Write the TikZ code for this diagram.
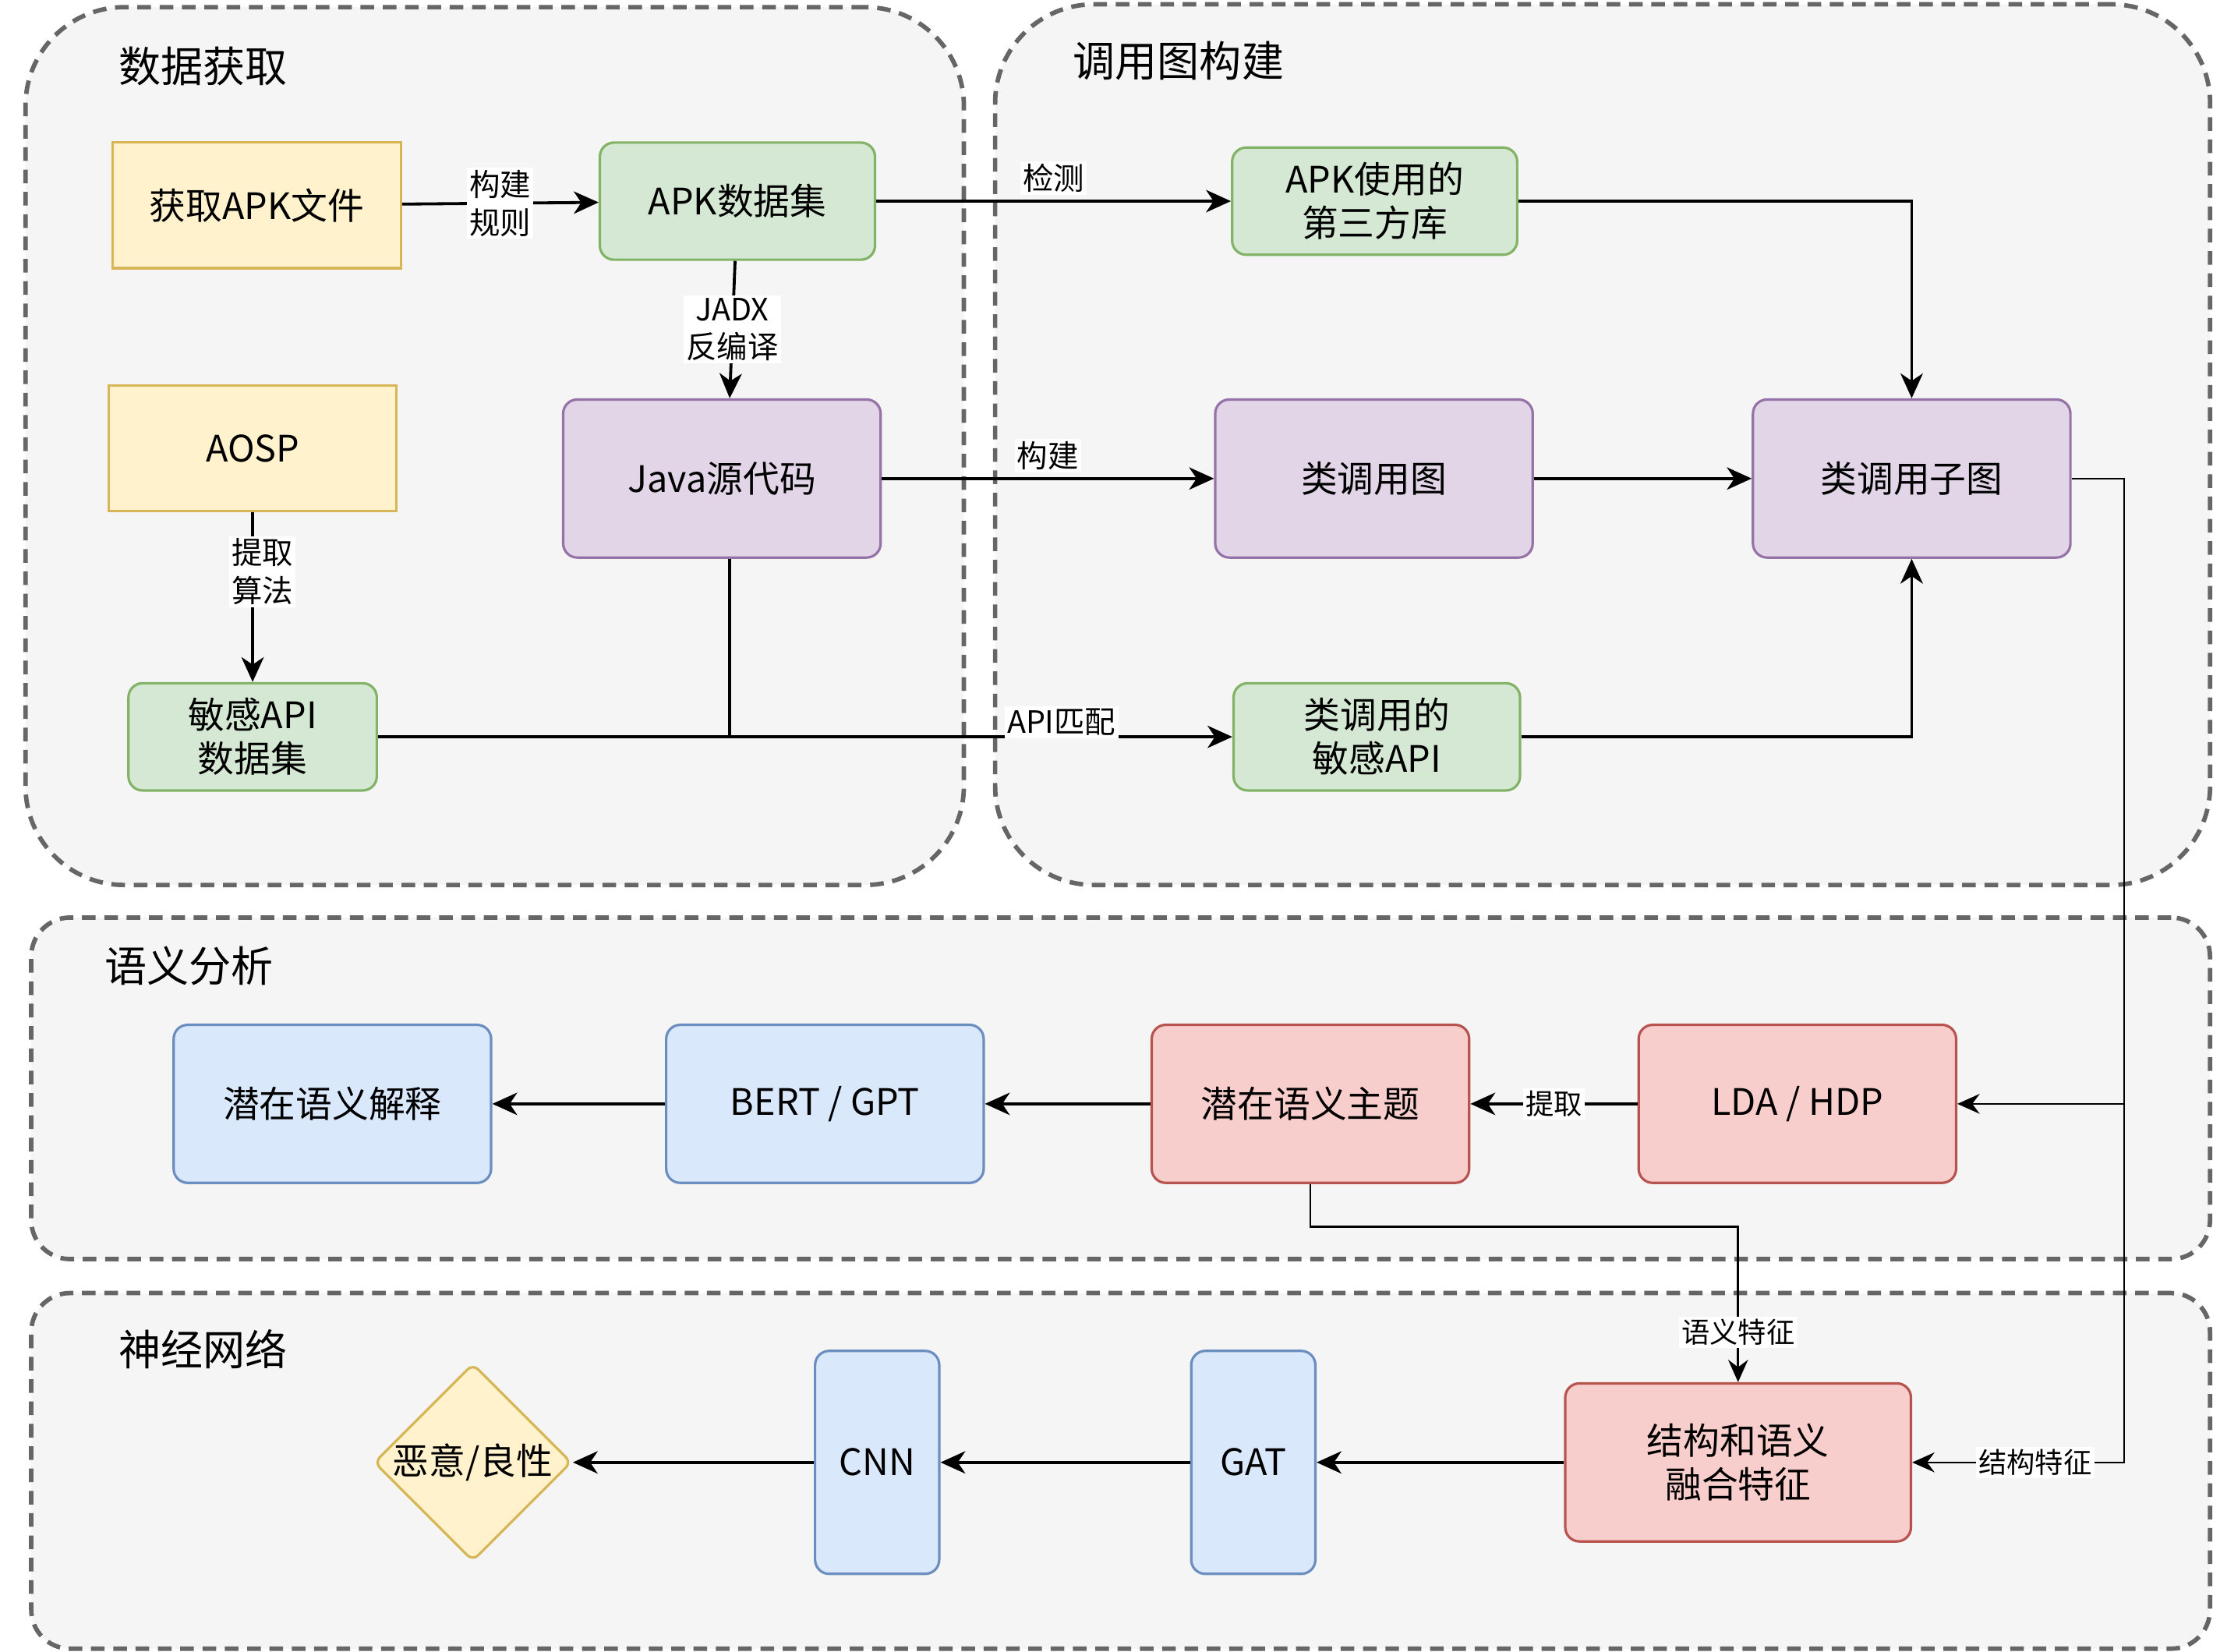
\documentclass[tikz,border=0pt]{standalone}
\RequirePackage{fontspec}
\RequirePackage{tikz}
\usetikzlibrary{arrows.meta,shapes.geometric}
\setmainfont{Noto Sans CJK SC}
\definecolor{grpfill}{HTML}{F5F5F5}
\definecolor{grpdraw}{HTML}{666666}
\definecolor{yfill}{HTML}{FFF2CC}
\definecolor{ydraw}{HTML}{D6B656}
\definecolor{gfill}{HTML}{D5E8D4}
\definecolor{gdraw}{HTML}{82B366}
\definecolor{pfill}{HTML}{E1D5E7}
\definecolor{pdraw}{HTML}{9673A6}
\definecolor{bfill}{HTML}{DAE8FC}
\definecolor{bdraw}{HTML}{6C8EBF}
\definecolor{rfill}{HTML}{F8CECC}
\definecolor{rdraw}{HTML}{B85450}

\begin{document}
\begin{tikzpicture}[x=0.02cm,y=-0.02cm,
                grp/.style={draw=grpdraw,fill=grpfill,line width=1.8pt,dash pattern=on 5.5pt off 3.5pt},
                grptitle/.style={font=\fontsize{17}{20}\selectfont,inner sep=0pt,anchor=west},
                box/.style={draw,line width=1pt,align=center,inner sep=0pt,rounded corners=0.2cm,font=\fontsize{14.7}{17.6}\selectfont},
                ybox/.style={box,fill=yfill,draw=ydraw,sharp corners},
                gbox/.style={box,fill=gfill,draw=gdraw},
                pbox/.style={box,fill=pfill,draw=pdraw},
                bbox/.style={box,fill=bfill,draw=bdraw},
                rbox/.style={box,fill=rfill,draw=rdraw},
                bigbox/.style={minimum width=4.5cm,minimum height=2.24cm},
                tallbox/.style={minimum width=1.76cm,minimum height=3.16cm},
                lbl/.style={fill=white,inner sep=1pt,align=center,font=\fontsize{12.4}{15.3}\selectfont},
                slbl/.style={lbl,font=\fontsize{11.4}{14}\selectfont},
                arr/.style={line width=1.2pt,-{Stealth[length=10pt,width=9pt,inset=3pt]}},
                thinarr/.style={line width=0.8pt,-{Stealth[length=9pt,width=8pt,inset=3pt]}},
                line/.style={line width=1.2pt}]
                \useasboundingbox (0,0) rectangle (1568,1170);

                \node[grp,minimum width=13.3cm,minimum height=12.44cm,rounded corners=1.4cm] (acq) at (350.5,316) {};
                \node[grp,minimum width=17.22cm,minimum height=12.48cm,rounded corners=1.4cm] (cgb) at (1135.5,315) {};
                \node[grp,minimum width=30.88cm,minimum height=4.84cm,rounded corners=0.55cm] (sem) at (794,771) {};
                \node[grp,minimum width=30.88cm,minimum height=5.04cm,rounded corners=0.55cm] (nn) at (794,1042) {};
                \node[grptitle] (acqtitle) at (84,47) {数据获取};
                \node[grptitle] (cgbtitle) at (760,43) {调用图构建};
                \node[grptitle] (semtitle) at (74,684) {语义分析};
                \node[grptitle] (nntitle) at (84,956) {神经网络};

                \node[ybox,minimum width=4.08cm,minimum height=1.78cm] (getapk) at (182,145.5) {获取APK文件};
                \node[gbox,minimum width=3.9cm,minimum height=1.66cm] (apkset) at (522.5,142.5) {APK数据集};
                \node[ybox,minimum width=4.08cm,minimum height=1.78cm] (aosp) at (179,317.5) {AOSP};
                \node[pbox,bigbox] (java) at (511.5,339) {Java源代码};
                \node[gbox,minimum width=3.52cm,minimum height=1.52cm] (sapiset) at (179,522) {敏感API\\数据集};
                \node[gbox,minimum width=4.04cm,minimum height=1.52cm] (lib) at (974,142.5) {APK使用的\\第三方库};
                \node[pbox,bigbox] (ccg) at (973.5,339) {类调用图};
                \node[pbox,bigbox] (subg) at (1354.5,339) {类调用子图};
                \node[gbox,minimum width=4.06cm,minimum height=1.52cm] (capi) at (975.5,522) {类调用的\\敏感API};

                \node[bbox,bigbox] (explain) at (235.5,782) {潜在语义解释};
                \node[bbox,bigbox] (bert) at (584.5,782) {BERT / GPT};
                \node[rbox,bigbox] (topic) at (928.5,782) {潜在语义主题};
                \node[rbox,bigbox] (lda) at (1273.5,782) {LDA / HDP};

                \node[rbox,minimum width=4.9cm,minimum height=2.24cm] (fuse) at (1231.5,1036) {结构和语义\\融合特征};
                \node[bbox,tallbox] (gat) at (888,1036) {GAT};
                \node[bbox,tallbox] (cnn) at (621.5,1036) {CNN};
                \node[box,fill=yfill,draw=ydraw,diamond,aspect=1,rounded corners=3pt,minimum width=2.72cm,minimum height=2.74cm] (verdict) at (335,1036) {恶意/良性};

                \coordinate (jmeet) at (517,522);
                \draw[arr] (getapk) -- node[lbl] {构建\\规则} (apkset);
                \draw[arr] (apkset) -- node[lbl] {JADX\\反编译} (jmeet |- java.north);
                \draw[arr] (aosp) -- node[lbl,pos=0.35,xshift=4pt] {提取\\算法} (sapiset);
                \draw[arr] (apkset) -- node[lbl,above=2pt] {检测} (lib);
                \draw[arr] (java) -- node[lbl,above=2pt] {构建} (ccg);
                \draw[arr] (sapiset) -- node[lbl,pos=0.8,yshift=6pt] {API匹配} (capi);
                \draw[line] (jmeet |- java.south) -- (jmeet);

                \draw[arr] (lib) -| (subg);
                \draw[arr] (ccg) -- (subg);
                \draw[arr] (capi) -| (subg);

                \coordinate (bus) at (1505,339);
                \draw[thinarr] (subg) -- (bus) |- (lda);
                \draw[thinarr] (bus) |- node[slbl,pos=0.71] {结构特征} (fuse);
                \draw[arr] (lda) -- node[slbl] {提取} (topic);
                \draw[arr] (topic) -- (bert);
                \draw[arr] (bert) -- (explain);
                \coordinate (semturn) at (928.5,869);
                \draw[thinarr] (topic) -- (semturn) -| node[slbl,pos=0.84] {语义特征} (fuse);

                \draw[arr] (fuse) -- (gat);
                \draw[arr] (gat) -- (cnn);
                \draw[arr] (cnn) -- (verdict);
\end{tikzpicture}
\end{document}
